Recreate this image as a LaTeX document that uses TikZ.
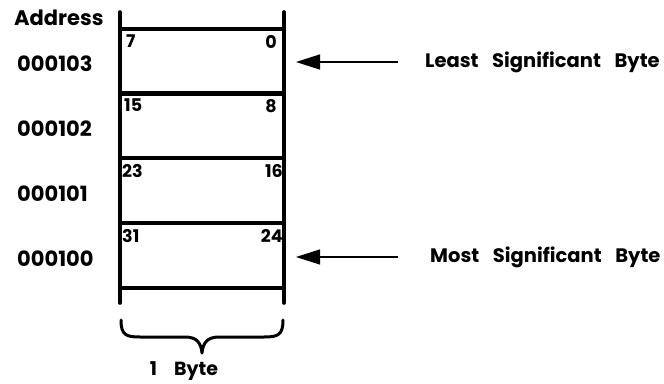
\documentclass[tikz,border=0pt]{standalone}
\usepackage{fontspec}
\setmainfont{Poppins}
\usetikzlibrary{arrows.meta,calc}
\tikzset{
  frame/.style={line width=3.6pt, line cap=round},
  cell/.style={draw, line width=3.6pt, minimum width=164pt, minimum height=65pt, inner sep=0pt, outer sep=0pt, anchor=north west},
  addr/.style={font=\fontsize{21}{21}\selectfont\bfseries, inner sep=0pt},
  bit/.style={font=\fontsize{17.5}{17.5}\selectfont\bfseries, inner sep=0pt},
  lbl/.style={font=\fontsize{19.5}{20}\selectfont\bfseries, inner sep=0pt, anchor=west},
  pointer/.style={line width=1.3pt, -{Triangle[length=24pt, width=15pt]}}
}
\begin{document}
\begin{tikzpicture}[x=1pt, y=-1pt]
  \useasboundingbox (0,0) rectangle (664,383);
  % memory cells, top to bottom
  \node[cell] (c3) at (120,29) {};
  \node[cell] (c2) at (120,93) {};
  \node[cell] (c1) at (120,158) {};
  \node[cell] (c0) at (120,223) {};
  % side rails running past the top and bottom of the stack
  \coordinate (tl) at (120,12);
  \coordinate (tr) at (284,12);
  \coordinate (bl) at (120,303);
  \coordinate (br) at (284,303);
  \draw[frame] (tl) -- (bl);
  \draw[frame] (tr) -- (br);
  % addresses
  \node[addr, anchor=west] (ah) at (14,18) {Address};
  \node[addr, anchor=west] (a3) at (17,64) {000103};
  \node[addr, anchor=west] (a2) at (17,129) {000102};
  \node[addr, anchor=west] (a1) at (17,194) {000101};
  \node[addr, anchor=west] (a0) at (17,259) {000100};
  % bit numbers
  \node[bit, anchor=north west] (b7) at ($(c3.north west)+(6,6)$) {7};
  \node[bit, anchor=north east] (b0) at ($(c3.north east)+(-7,6)$) {0};
  \node[bit, anchor=north west] (b15) at ($(c2.north west)+(4,6)$) {15};
  \node[bit, anchor=north east] (b8) at ($(c2.north east)+(-7,6)$) {8};
  \node[bit, anchor=north west] (b23) at ($(c1.north west)+(2,6)$) {23};
  \node[bit, anchor=north east] (b16) at ($(c1.north east)+(-1,6)$) {16};
  \node[bit, anchor=north west] (b31) at ($(c0.north west)+(2,6)$) {31};
  \node[bit, anchor=north east] (b24) at ($(c0.north east)+(-1,6)$) {24};
  % byte significance markers
  \node[lbl] (lsb) at (425,62) {Least\hspace{0.7em}Significant\hspace{0.7em}Byte};
  \node[lbl] (msb) at (430,257) {Most\hspace{0.7em}Significant\hspace{0.7em}Byte};
  \coordinate (lsbend) at (296,62);
  \coordinate (msbend) at (296,257);
  \draw[pointer] (398,62) -- (lsbend);
  \draw[pointer] (398,257) -- (msbend);
  % brace under the stack
  \coordinate (brl) at (121,320);
  \coordinate (brr) at (283,320);
  \coordinate (tip) at (202,353);
  \draw[line width=3pt, line cap=round, line join=round]
    (brl) .. controls (121,335) and (126,337) .. (140,337) -- (185,337)
    .. controls (197,337) and (201,343) .. (tip)
    .. controls (203,343) and (207,337) .. (219,337) -- (264,337)
    .. controls (278,337) and (283,335) .. (brr);
  \node[addr, font=\fontsize{19}{19}\selectfont\bfseries, anchor=north] (one) at (184,361) {1\hspace{0.9em}Byte};
\end{tikzpicture}
\end{document}
